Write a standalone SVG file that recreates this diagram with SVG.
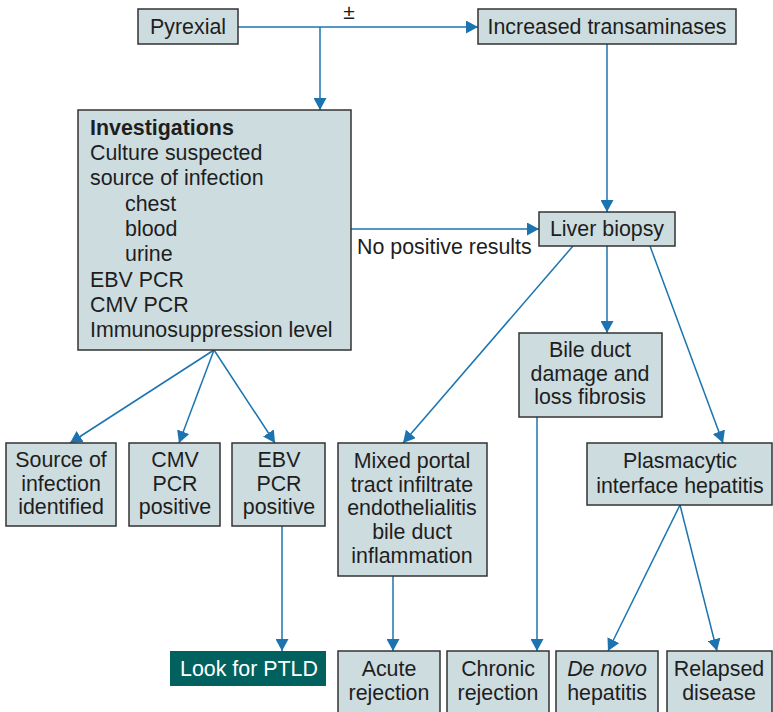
<svg xmlns="http://www.w3.org/2000/svg" width="773" height="712" viewBox="0 0 773 712">
  <style>
    .box { fill: #cddcdf; stroke: #333333; stroke-width: 1.5; }
    .dark { fill: #00615f; }
    .t { font-family: "Liberation Sans", Arial, sans-serif; font-size: 21.4px; fill: #1e1e1e; }
    .c { text-anchor: middle; }
    .w { fill: #ffffff; }
    .b { font-weight: bold; }
    .link { fill: none; stroke: #1b74b0; stroke-width: 1.5; }
    .arrow { marker-end: url(#head); }
  </style>
  <defs>
    <marker id="head" viewBox="0 0 12 13" refX="12" refY="6.5" markerWidth="12" markerHeight="13" markerUnits="userSpaceOnUse" orient="auto">
      <path d="M0,0 L12,6.5 L0,13 z" fill="#1b74b0"/>
    </marker>
  </defs>
  <rect width="773" height="712" fill="#ffffff"/>

  <!-- connectors -->
  <g id="connectors">
    <path class="link arrow" d="M238,27 H478"/>
    <path class="link arrow" d="M320,27 V110"/>
    <path class="link arrow" d="M607,44 V212"/>
    <path class="link arrow" d="M351,229 H539"/>
    <path class="link arrow" d="M573,246 L403,443"/>
    <path class="link arrow" d="M607,246 V333"/>
    <path class="link arrow" d="M650,246 L723,443"/>
    <path class="link arrow" d="M214,350 L70,443"/>
    <path class="link arrow" d="M214,350 L179,443"/>
    <path class="link arrow" d="M214,350 L275,443"/>
    <path class="link arrow" d="M282,526 V651"/>
    <path class="link arrow" d="M393,576 V651"/>
    <path class="link arrow" d="M537,417 V651"/>
    <path class="link arrow" d="M680,505 L608,651"/>
    <path class="link arrow" d="M680,505 L717,651"/>
    <text class="t" x="349" y="19" text-anchor="middle" style="font-size:21px">±</text>
    <text class="t" x="357" y="254">No positive results</text>
  </g>

  <g id="pyrexial">
    <rect class="box" x="138" y="9" width="100" height="35"/>
    <text class="t c" x="188" y="34">Pyrexial</text>
  </g>

  <g id="transaminases">
    <rect class="box" x="478" y="9" width="258" height="35"/>
    <text class="t c" x="607" y="34">Increased transaminases</text>
  </g>

  <g id="investigations">
    <rect class="box" x="78" y="110" width="273" height="240"/>
    <text class="t b" x="90" y="135">Investigations</text>
    <text class="t" x="90" y="160">Culture suspected</text>
    <text class="t" x="90" y="185">source of infection</text>
    <text class="t" x="125" y="211">chest</text>
    <text class="t" x="125" y="236">blood</text>
    <text class="t" x="125" y="261">urine</text>
    <text class="t" x="90" y="287">EBV PCR</text>
    <text class="t" x="90" y="312">CMV PCR</text>
    <text class="t" x="90" y="337">Immunosuppression level</text>
  </g>

  <g id="liver-biopsy">
    <rect class="box" x="539" y="212" width="136" height="34"/>
    <text class="t c" x="607" y="236">Liver biopsy</text>
  </g>

  <g id="source-identified">
    <rect class="box" x="6" y="443" width="110" height="83"/>
    <text class="t c" x="61" y="467">Source of</text>
    <text class="t c" x="61" y="491">infection</text>
    <text class="t c" x="61" y="514">identified</text>
  </g>

  <g id="cmv-positive">
    <rect class="box" x="129" y="443" width="91" height="83"/>
    <text class="t c" x="175" y="467">CMV</text>
    <text class="t c" x="175" y="491">PCR</text>
    <text class="t c" x="175" y="514">positive</text>
  </g>

  <g id="ebv-positive">
    <rect class="box" x="232" y="443" width="93" height="83"/>
    <text class="t c" x="279" y="467">EBV</text>
    <text class="t c" x="279" y="491">PCR</text>
    <text class="t c" x="279" y="514">positive</text>
  </g>

  <g id="mixed-portal">
    <rect class="box" x="338" y="443" width="149" height="133"/>
    <text class="t c" x="412" y="468">Mixed portal</text>
    <text class="t c" x="412" y="492">tract infiltrate</text>
    <text class="t c" x="412" y="515">endothelialitis</text>
    <text class="t c" x="412" y="539">bile duct</text>
    <text class="t c" x="412" y="563">inflammation</text>
  </g>

  <g id="bile-duct">
    <rect class="box" x="519" y="333" width="143" height="84"/>
    <text class="t c" x="590" y="357">Bile duct</text>
    <text class="t c" x="590" y="381">damage and</text>
    <text class="t c" x="590" y="404">loss fibrosis</text>
  </g>

  <g id="plasmacytic">
    <rect class="box" x="587" y="443" width="185" height="62"/>
    <text class="t c" x="680" y="468">Plasmacytic</text>
    <text class="t c" x="680" y="493">interface hepatitis</text>
  </g>

  <g id="ptld">
    <rect class="dark" x="170" y="651" width="156" height="35"/>
    <text class="t c w" x="249" y="676">Look for PTLD</text>
  </g>

  <g id="acute-rejection">
    <rect class="box" x="338" y="651" width="102" height="70"/>
    <text class="t c" x="389" y="676">Acute</text>
    <text class="t c" x="389" y="700">rejection</text>
  </g>

  <g id="chronic-rejection">
    <rect class="box" x="447" y="651" width="102" height="70"/>
    <text class="t c" x="498" y="676">Chronic</text>
    <text class="t c" x="498" y="700">rejection</text>
  </g>

  <g id="de-novo">
    <rect class="box" x="556" y="651" width="102" height="70"/>
    <text class="t c" x="607" y="676" font-style="italic">De novo</text>
    <text class="t c" x="607" y="700">hepatitis</text>
  </g>

  <g id="relapsed">
    <rect class="box" x="667" y="651" width="105" height="70"/>
    <text class="t c" x="719" y="676">Relapsed</text>
    <text class="t c" x="719" y="700">disease</text>
  </g>
</svg>
